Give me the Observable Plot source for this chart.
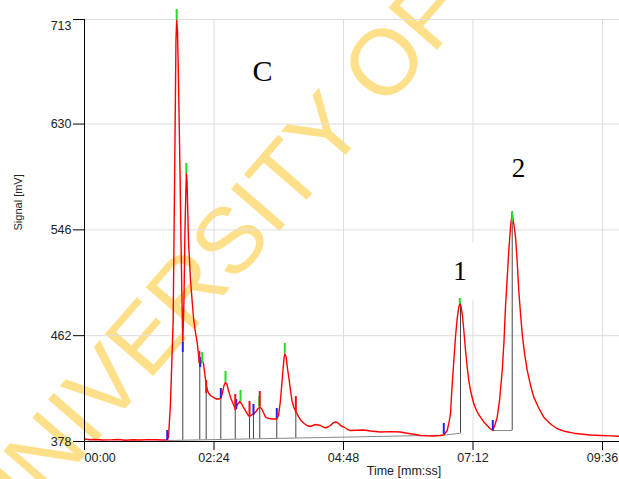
<!DOCTYPE html>
<html><head><meta charset="utf-8">
<script src="https://cdn.jsdelivr.net/npm/d3@7"></script>
<script src="https://cdn.jsdelivr.net/npm/@observablehq/plot@0.6"></script>
<style>body{margin:0;background:#fff} #chart svg{display:block;background:#fff}</style>
</head><body><div id="chart"></div>
<script>
// Chromatogram trace: time in seconds, signal in mV
const time = [0,6,12.2,20,28.9,37,45.6,54,62.3,70,79.0,86,91.2,93.4,95.6,98.6,100.4,101.7,102.5,103.4,104.5,106.0,107.3,108.4,109.3,110.6,111.7,113.2,114.0,115.6,117.9,120.1,121.5,123.4,125.3,127.3,128.2,129.5,130.9,132.3,134.0,135.3,136.8,138.2,140.1,143.8,146.8,149.3,151.6,153.5,155.1,156.8,158.5,160.1,162.3,165.1,167.9,170.1,172.7,174.6,176.8,179.0,181.3,183.5,185.7,188.3,190.7,192.9,194.9,196.8,199.0,201.3,204.6,209.1,213.8,215.7,217.9,220.2,221.8,222.7,224.1,225.7,227.2,229.1,230.7,232.7,235.0,238.3,240.7,243.9,247.4,251.3,254.1,256.9,259.7,262.5,265.2,268.0,270.8,273.5,276.3,279.1,281.9,284.7,288.3,291.9,295.8,302.5,310.6,318.0,329.1,340.3,351.4,356.9,362.5,368.1,373.6,381.4,388.1,395.9,399.5,403.3,405.3,407.0,408.9,410.7,412.5,414.4,416.2,417.3,418.7,420.0,421.8,423.7,425.6,427.3,429.2,431.1,432.9,436.4,440.3,444.0,447.8,450.9,454.0,456.5,458.9,461.5,464.5,466.5,468.1,470.0,471.8,473.7,474.8,475.6,476.3,477.6,479.3,481.2,482.9,484.8,486.7,489.3,492.3,496.0,499.6,504.8,510.7,518.2,525.6,534.9,544.1,551.5,562.7,573.8,584.9,594.9];
const signal = [380.0,379.4,379.6,379.2,379.3,379.6,379.0,379.4,379.2,379.5,379.4,379.2,379.2,381.2,408.2,474.1,601.1,696.3,712.6,704.3,664.6,601.1,537.6,489.9,456.2,489.9,545.5,590.7,585.2,537.6,505.8,486.0,474.1,464.5,456.6,443.9,438.3,440.7,442.3,439.9,430.4,423.2,418.5,416.1,414.5,412.9,411.7,411.7,412.5,416.9,422.5,425.2,423.2,418.5,413.2,408.2,403.8,407.4,409.8,408.2,405.0,402.6,399.4,397.8,399.0,400.0,401.8,404.2,405.2,404.2,401.0,397.4,396.3,395.9,395.9,398.6,410.5,430.4,443.9,447.6,445.5,436.0,428.8,418.5,410.5,405.2,401.8,397.3,394.7,392.5,390.7,389.9,390.7,391.5,391.1,390.7,389.5,388.9,389.5,390.7,392.7,393.5,392.7,390.7,389.5,387.9,386.7,386.9,387.1,386.3,385.5,385.8,385.5,384.7,384.1,383.6,382.8,382.5,382.4,382.8,383.2,386.7,393.1,400.2,424.0,442.3,460.8,475.6,484.6,487.5,485.2,479.4,466.1,450.2,436.7,426.4,418.5,412.9,407.9,401.8,397.3,393.5,390.7,388.3,386.7,391.5,397.3,410.5,434.4,458.2,484.6,507.4,529.6,548.1,555.0,559.8,555.0,549.5,540.2,520.1,497.9,479.6,463.5,447.9,434.4,422.5,413.2,405.0,397.3,391.9,388.1,385.9,384.6,384.0,383.2,382.8,382.5,382.2];

// Integration markers: peak start (blue), apex (green), end (red)
const startTime = [92.0,109.3,128.6,151.6,168.7,187.9,213.8,399.5,454.0];
const startLow  = [378.8,448.7,436.7,412.1,403.4,398.6,396.3,383.6,386.7];
const startHigh = [386.7,456.6,444.7,420.1,411.3,407.4,404.2,392.3,394.7];
const apexTime = [102.5,113.2,130.9,156.8,173.5,194.3,222.7,417.3,475.6];
const apexLow  = [712.6,590.7,439.9,425.1,409.8,405.2,447.9,486.8,552.1];
const apexHigh = [720.9,598.7,448.7,433.6,418.5,413.7,455.8,491.5,560.0];
const endTime = [127.7,135.3,167.6,183.5,194.9,235.0];
const endLow  = [439.9,416.1,402.6,397.8,405.2,400.2];
const endHigh = [449.4,426.4,415.3,409.8,417.7,413.7];

// Drop lines and baselines
const dropTime = [109.3,128.2,135.3,151.6,167.6,183.5,187.9,194.9,213.8,235.0,418.1,475.6];
const dropTop  = [448.7,438.3,416.1,412.1,402.6,397.8,398.6,405.2,396.3,401.8,488.6,560.6];
const dropBase = [379.0,379.3,379.4,379.6,379.8,380.0,380.0,380.1,380.4,380.7,384.6,386.7];
const baseT1 = [92.0,399.5,454.0];
const baseV1 = [378.8,383.0,386.7];
const baseT2 = [399.5,418.1,475.6];
const baseV2 = [383.0,384.6,386.7];

// Annotations
const labelText = ["C","1","2"];
const labelTime = [197.9,417.5,482.6];
const labelValue = [671.7,513.3,595.1];

const xTicks = [0,144,288,432,576];
const yTicks = [378,462,546,630,713];
const fmt = s => String(Math.floor(s/60)).padStart(2,"0") + ":" + String(Math.round(s%60)).padStart(2,"0");

const trace = time.map((t,i)=>({t, v: signal[i]}));
const mk = (T,L,H) => T.map((t,i)=>({t, lo:L[i], hi:H[i]}));
const starts = mk(startTime,startLow,startHigh);
const apexes = mk(apexTime,apexLow,apexHigh);
const ends = mk(endTime,endLow,endHigh);
const drops = mk(dropTime,dropBase,dropTop);
const bases = baseT1.map((t,i)=>({t1:t, v1:baseV1[i], t2:baseT2[i], v2:baseV2[i]}));
const labels = labelText.map((s,i)=>({s, t:labelTime[i], v:labelValue[i]}));

const sans = "Liberation Sans, Arial, sans-serif";
const serif = "Liberation Serif, Times New Roman, serif";

const chart = Plot.plot({
  width: 619, height: 479,
  marginLeft: 84, marginRight: 0, marginTop: 19, marginBottom: 38,
  style: {fontFamily: sans, background: "#fff"},
  x: {domain: [0, 594.9], axis: null},
  y: {domain: [378, 713], axis: null},
  marks: [
    Plot.text(["UNIVERSITY OF"], {frameAnchor: "top-left", dx: 129, dy: 242, rotate: -49, fontSize: 93, fill: "#ffe08a", fontFamily: sans, textAnchor: "middle", lineAnchor: "middle"}),
    Plot.gridX(xTicks.slice(1), {stroke: "#dddddd", strokeOpacity: 1}),
    Plot.gridY(yTicks, {stroke: "#dddddd", strokeOpacity: 1}),
    Plot.dot(labels.filter(d => d.s === "1"), {x: "t", y: "v", symbol: "square", r: 32, fill: "white", stroke: "none"}),
    Plot.link(bases, {x1: "t1", y1: "v1", x2: "t2", y2: "v2", stroke: "#888", strokeWidth: 1}),
    Plot.ruleX(drops, {x: "t", y1: "lo", y2: "hi", stroke: "#444", strokeWidth: 1}),
    Plot.line(trace, {x: "t", y: "v", stroke: "#ff0000", strokeWidth: 1.4}),
    Plot.ruleX(starts, {x: "t", y1: "lo", y2: "hi", stroke: "#2020ff", strokeWidth: 2}),
    Plot.ruleX(apexes, {x: "t", y1: "lo", y2: "hi", stroke: "#22dd22", strokeWidth: 2}),
    Plot.ruleX(ends, {x: "t", y1: "lo", y2: "hi", stroke: "#ee1111", strokeWidth: 2}),
    Plot.ruleX([0], {stroke: "black"}),
    Plot.ruleY([378], {stroke: "black"}),
    Plot.axisY({ticks: yTicks, tickSize: 11, text: null, label: null, stroke: "black"}),
    Plot.axisY({ticks: yTicks.slice(0,4), tickSize: 0, tickPadding: 13, tickFormat: d => String(d), label: null, fontSize: 12.5, fill: "#222"}),
    Plot.axisY({ticks: [713], tickSize: 0, tickPadding: 13, tickFormat: d => String(d), label: null, fontSize: 12.5, fill: "#222", dy: 6}),
    Plot.axisX({ticks: xTicks, tickSize: 9, text: null, label: null, stroke: "black"}),
    Plot.axisX({ticks: xTicks.slice(1), tickSize: 0, tickPadding: 12, tickFormat: fmt, label: null, fontSize: 12.5, fill: "#222"}),
    Plot.axisX({ticks: [0], tickSize: 0, tickPadding: 12, tickFormat: fmt, label: null, fontSize: 12.5, fill: "#222", textAnchor: "start"}),
    Plot.text(["Time [mm:ss]"], {frameAnchor: "bottom", dx: 52, dy: 29, fontSize: 12.5, fill: "#222", lineAnchor: "middle", letterSpacing: 1}),
    Plot.text(["Signal [mV]"], {frameAnchor: "left", dx: -66, rotate: -90, fontSize: 11, fill: "#222", lineAnchor: "middle", letterSpacing: 0.5}),
    Plot.text(labels.filter(d => d.s === "C"), {x: "t", y: "v", text: "s", fontSize: 30, fontFamily: serif, fill: "black", lineAnchor: "middle"}),
    Plot.text(labels.filter(d => d.s !== "C"), {x: "t", y: "v", text: "s", fontSize: 27, fontFamily: serif, fill: "black", lineAnchor: "middle"})
  ]
});
document.getElementById("chart").appendChild(chart);
</script>
</body></html>
